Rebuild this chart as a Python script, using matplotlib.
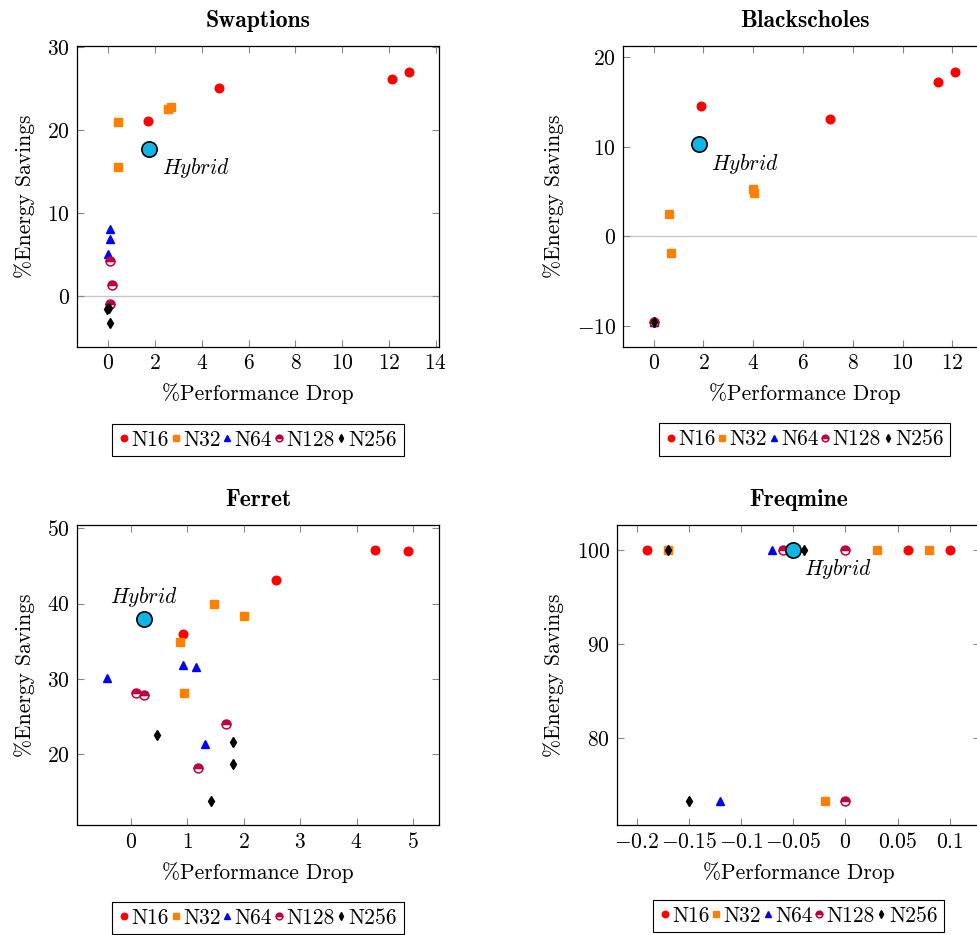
import numpy as np
import matplotlib
matplotlib.use("Agg")
import matplotlib.pyplot as plt
from matplotlib.ticker import FuncFormatter

plt.rcParams['font.family'] = 'cmr10'
plt.rcParams['mathtext.fontset'] = 'cm'
plt.rcParams['axes.formatter.use_mathtext'] = True
plt.rcParams['axes.unicode_minus'] = True

series = ['N16', 'N32', 'N64', 'N128', 'N256']

# swaptions
sw_x = {
    'N16': [1.68, 4.73, 12.15, 12.84],
    'N32': [0.40, 0.41, 2.54, 2.69],
    'N64': [0.07, 0.07, 0.0],
    'N128': [0.07, 0.14, 0.07],
    'N256': [-0.07, 0.04, 0.09],
}
sw_y = {
    'N16': [21.1, 25.1, 26.1, 27.0],
    'N32': [21.0, 15.5, 22.5, 22.7],
    'N64': [8.07, 6.87, 5.0],
    'N128': [4.2, 1.3, -1.0],
    'N256': [-1.6, -1.4, -3.2],
}
sw_hybrid = (1.75, 17.7)

# blackscholes
bs_x = {
    'N16': [1.89, 7.09, 11.42, 12.12],
    'N32': [0.63, 0.68, 3.99, 4.03],
    'N64': [0.0],
    'N128': [0.0],
    'N256': [0.0],
}
bs_y = {
    'N16': [14.57, 13.09, 17.29, 18.4],
    'N32': [2.45, -1.86, 5.32, 4.83],
    'N64': [-9.52],
    'N128': [-9.52],
    'N256': [-9.52],
}
bs_hybrid = (1.83, 10.3)

# ferret
fe_x = {
    'N16': [4.33, 4.92, 2.57, 0.93],
    'N32': [1.48, 2.01, 0.87, 0.94],
    'N64': [-0.42, 0.93, 1.15, 1.32],
    'N128': [0.09, 0.24, 1.69, 1.20],
    'N256': [0.47, 1.81, 1.81, 1.43],
}
fe_y = {
    'N16': [47.12, 46.95, 43.19, 35.93],
    'N32': [40.0, 38.36, 34.87, 28.1],
    'N64': [30.09, 31.8, 31.6, 21.33],
    'N128': [28.19, 27.83, 23.98, 18.19],
    'N256': [22.57, 21.64, 18.67, 13.8],
}
fe_hybrid = (0.24, 38.0)

# freqmine
fq_x = {
    'N16': [-0.19, 0.06, 0.1],
    'N32': [-0.17, 0.03, 0.08, -0.02],
    'N64': [-0.07, -0.12],
    'N128': [-0.06, 0.0, 0.0],
    'N256': [-0.17, -0.04, -0.15],
}
fq_y = {
    'N16': [100, 100, 100],
    'N32': [100, 100, 100, 73.35],
    'N64': [100, 73.35],
    'N128': [100, 100, 73.35],
    'N256': [100, 100, 73.35],
}
fq_hybrid = (-0.05, 100.0)

styles = {
    'N16': dict(marker='o', color='#ff0000', ms=6.2),
    'N32': dict(marker='s', color='#ff8000', ms=5.6),
    'N64': dict(marker='^', color='#0000ff', ms=5.6),
    'N128': dict(marker='o', color='#bf0040', ms=6.4, fillstyle='top',
                 markerfacecoloralt='white', mew=1.1),
    'N256': dict(marker='d', color='black', ms=5.0),
}

FS = 15.5

fig = plt.figure(figsize=(9.77, 9.35), dpi=100)


def fmt(v, pos):
    v = round(v, 6)
    if v == 0:
        return '$0$'
    return '$%g$' % v


def panel(rect, title, xs, ys, hybrid, xlim, ylim, xticks, yticks,
          hoff, hha, zero_line, leg_y):
    ax = fig.add_axes(rect)
    if zero_line:
        ax.axhline(0, color='#c8c8c8', lw=1.0, zorder=1)
    for name in series:
        st = dict(styles[name])
        col = st.pop('color')
        ax.plot(xs[name], ys[name], ls='none', color=col, mfc=col, mec=col,
                label=name, zorder=3, **st)
    ax.plot([hybrid[0]], [hybrid[1]], ls='none', marker='o', ms=11,
            mfc='#10b4e6', mec='black', mew=1.2, zorder=4)
    ax.annotate('$Hybrid$', hybrid, xytext=hoff, textcoords='offset points',
                ha=hha, va='center', fontsize=FS)
    ax.set_xlim(*xlim)
    ax.set_ylim(*ylim)
    ax.set_xticks(xticks)
    ax.set_yticks(yticks)
    ax.xaxis.set_major_formatter(FuncFormatter(fmt))
    ax.yaxis.set_major_formatter(FuncFormatter(fmt))
    ax.tick_params(direction='in', length=5, width=0.8, color='#888888',
                   top=True, right=True, labelsize=FS, pad=5)
    for s in ax.spines.values():
        s.set_linewidth(0.9)
    ax.set_title(title, fontsize=17, family='cmb10', pad=14)
    ax.set_xlabel('%Performance Drop', fontsize=FS, labelpad=7)
    ax.set_ylabel('%Energy Savings', fontsize=FS, labelpad=9)
    leg = ax.legend(loc='upper center', bbox_to_anchor=(0.5, leg_y), ncol=5,
                    fontsize=FS, frameon=True, fancybox=False, framealpha=1,
                    edgecolor='black', handlelength=0.5, handletextpad=0.1,
                    columnspacing=0.05, borderpad=0.3, markerscale=0.75,
                    borderaxespad=0)
    leg.get_frame().set_linewidth(0.8)
    return ax


panel([0.0788, 0.6289, 0.3705, 0.3219], 'Swaptions', sw_x, sw_y, sw_hybrid,
      (-1.34, 14.14), (-6.14, 30.1), np.arange(0, 15, 2), [0, 10, 20, 30],
      (9, -14), 'left', True, -0.256)
panel([0.6377, 0.6289, 0.3715, 0.3219], 'Blackscholes', bs_x, bs_y, bs_hybrid,
      (-1.23, 13.35), (-12.34, 21.26), np.arange(0, 13, 2), [-10, 0, 10, 20],
      (8.5, -14), 'left', True, -0.253)
panel([0.0788, 0.1176, 0.3705, 0.3209], 'Ferret', fe_x, fe_y, fe_hybrid,
      (-0.95, 5.46), (10.62, 50.44), np.arange(0, 6, 1), [20, 30, 40, 50],
      (0, 15.5), 'center', False, -0.256)
panel([0.6315, 0.1176, 0.3715, 0.3209], 'Freqmine', fq_x, fq_y, fq_hybrid,
      (-0.2192, 0.129), (70.8, 102.65), np.arange(-0.2, 0.11, 0.05),
      [80, 90, 100], (8, -14), 'left', False, -0.25)

fig.savefig('out.png', dpi=100)
